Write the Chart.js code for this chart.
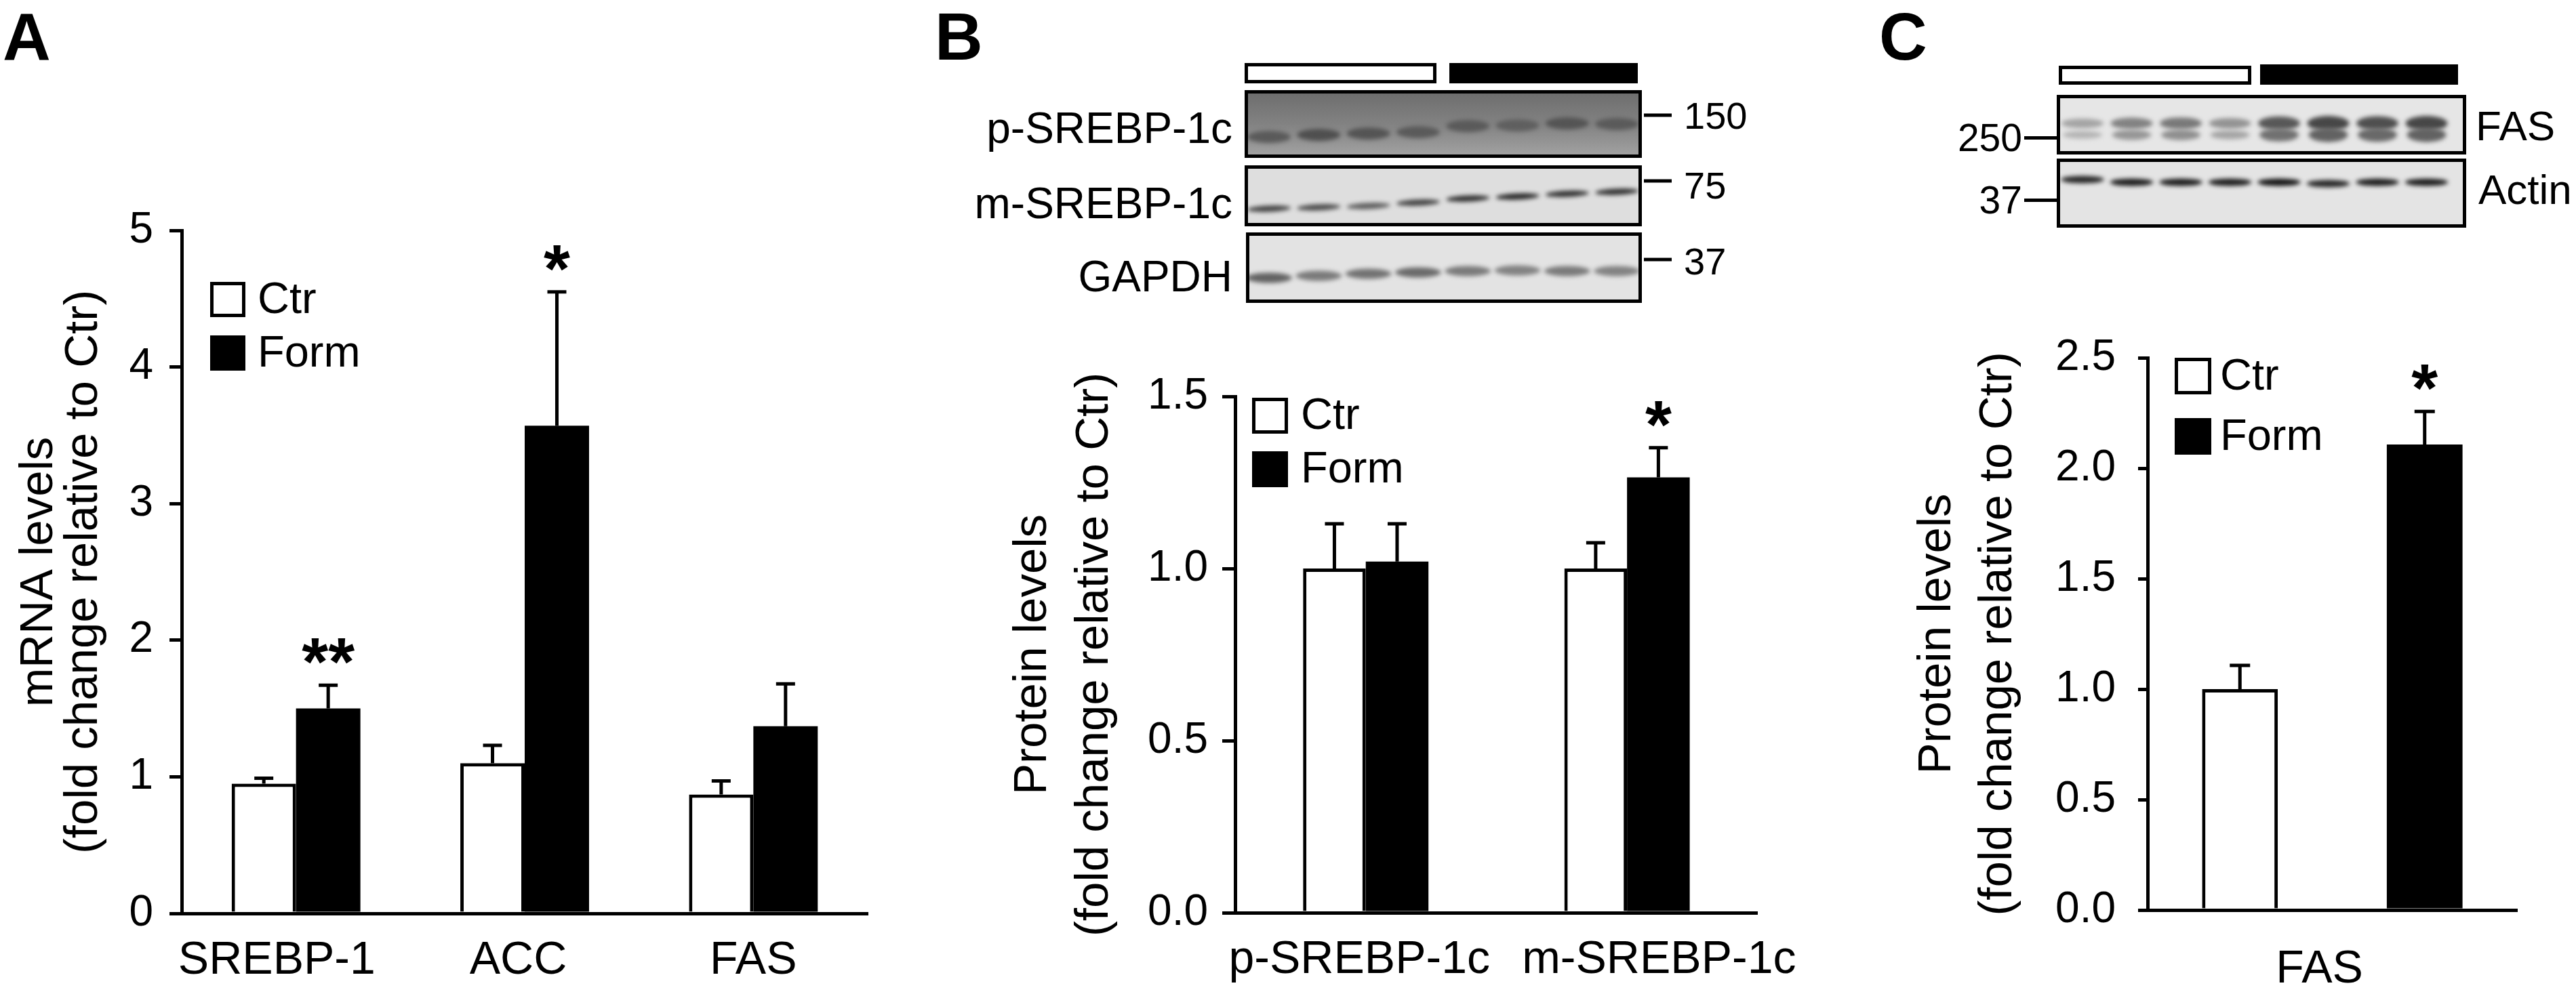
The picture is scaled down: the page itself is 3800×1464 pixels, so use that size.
<!DOCTYPE html>
<html>
<head>
<meta charset="utf-8">
<script src="https://cdn.jsdelivr.net/npm/chart.js@4.4.1/dist/chart.umd.min.js"></script>
<style>
  body { margin: 0; background: #fff; }
  #page { position: relative; width: 3800px; height: 1464px; overflow: hidden; font-family: "Liberation Sans", Arial, sans-serif; color: #000; }
  canvas { position: absolute; top: 0; }
  .t { position: absolute; line-height: 1; white-space: nowrap; transform: translateY(-50%); }
  .letter { position: absolute; top: 5px; font-weight: bold; font-size: 98px; line-height: 1; }
  .bar { position: absolute; box-sizing: border-box; }
</style>
</head>
<body>
<div id="page">
  <canvas id="blots" width="3800" height="1464" style="left:0"></canvas>
  <canvas id="chartA" width="1300" height="1464" style="left:0"></canvas>
  <canvas id="chartB" width="1300" height="1464" style="left:1400px"></canvas>
  <canvas id="chartC" width="1050" height="1464" style="left:2750px"></canvas>
  <div class="letter" style="left:4px">A</div>
  <div class="letter" style="left:1379px">B</div>
  <div class="letter" style="left:2772px">C</div>
</div>
<script>
const FONT = '"Liberation Sans", Arial, sans-serif';

// ---- data ----
const seriesNames = ['Ctr', 'Form'];

// A: mRNA levels
const catsA = ['SREBP-1', 'ACC', 'FAS'];
const ctrA = [0.95, 1.10, 0.87];
const ctrErrA = [0.04, 0.13, 0.10];
const formA = [1.50, 3.57, 1.37];
const formErrA = [0.17, 0.98, 0.31];
const starsA = ['**', '*', ''];
const ticksA = ['0', '1', '2', '3', '4', '5'];

// B: SREBP-1c protein
const catsB = ['p-SREBP-1c', 'm-SREBP-1c'];
const ctrB = [1.00, 1.00];
const ctrErrB = [0.13, 0.075];
const formB = [1.02, 1.265];
const formErrB = [0.11, 0.086];
const starsB = ['', '*'];
const ticksB = ['0.0', '0.5', '1.0', '1.5'];

// C: FAS protein
const catsC = ['FAS'];
const ctrC = [1.00];
const ctrErrC = [0.107];
const formC = [2.107];
const formErrC = [0.15];
const starsC = ['*'];
const ticksC = ['0.0', '0.5', '1.0', '1.5', '2.0', '2.5'];

// blot lanes (band centre y and relative intensity)
const pSrebpY = [202, 199, 197, 195, 186, 185, 182, 183];
const pSrebpI = [0.55, 0.65, 0.6, 0.55, 0.55, 0.5, 0.6, 0.55];
const mSrebpY = [308, 306, 304, 299, 293, 290, 286, 283];
const mSrebpI = [0.75, 0.7, 0.6, 0.75, 0.85, 0.9, 0.85, 0.85];
const gapdhY = [410, 407, 404, 402, 400, 399, 400, 400];
const gapdhI = [0.7, 0.55, 0.6, 0.65, 0.55, 0.5, 0.55, 0.5];
const fasI = [0.3, 0.5, 0.55, 0.4, 0.75, 0.85, 0.8, 0.85];
const actinY = [265, 269, 269, 269, 269, 271, 269, 269];
const actinI = [0.85, 0.9, 0.9, 0.9, 0.95, 0.85, 0.9, 0.9];

// ---- error bars, stars, legend ----
const extras = {
  id: 'extras',
  afterDatasetsDraw(chart, args, o) {
    const ctx = chart.ctx;
    const y = chart.scales.y;
    ctx.save();
    ctx.strokeStyle = '#000';
    ctx.fillStyle = '#000';
    ctx.lineWidth = 5;
    chart.data.datasets.forEach((ds, di) => {
      chart.getDatasetMeta(di).data.forEach((bar, i) => {
        const top = y.getPixelForValue(ds.data[i] + ds.errors[i]);
        ctx.beginPath();
        ctx.moveTo(bar.x, bar.y);
        ctx.lineTo(bar.x, top);
        ctx.moveTo(bar.x - o.cap / 2, top);
        ctx.lineTo(bar.x + o.cap / 2, top);
        ctx.stroke();
        if (ds.stars[i]) {
          ctx.font = 'bold 100px ' + FONT;
          ctx.textAlign = 'center';
          ctx.textBaseline = 'alphabetic';
          ctx.fillText(ds.stars[i], bar.x, top);
        }
      });
    });
    // legend
    const L = o.legend;
    const ca = chart.chartArea;
    ctx.font = L.font + 'px ' + FONT;
    ctx.textAlign = 'left';
    ctx.textBaseline = 'middle';
    chart.data.datasets.forEach((ds, di) => {
      const bx = ca.left + L.dx, by = ca.top + L.dy + di * L.pitch;
      if (di === 0) ctx.strokeRect(bx + 2.5, by + 2.5, L.size - 5, L.size - 5);
      else ctx.fillRect(bx, by, L.size, L.size);
      ctx.fillText(ds.label, bx + L.size + L.gap, by + L.size / 2 + 2);
    });
    ctx.restore();
  }
};

// category labels sit a little off their bar pairs in the original; nudge with spaces
const NB = '\u00a0';
function nudge(text, lead, trail) { return NB.repeat(lead) + text + NB.repeat(trail); }

function makeChart(id, c) {
  return new Chart(document.getElementById(id), {
    type: 'bar',
    data: {
      labels: c.labels,
      datasets: [
        { label: seriesNames[0], data: c.ctr, errors: c.ctrErr, stars: c.ctrStars,
          backgroundColor: '#fff', borderColor: '#000', borderWidth: 5, borderSkipped: 'start',
          categoryPercentage: c.catPct, barPercentage: c.barPct },
        { label: seriesNames[1], data: c.form, errors: c.formErr, stars: c.formStars,
          backgroundColor: '#000', borderWidth: 0,
          categoryPercentage: c.catPct, barPercentage: c.barPct }
      ]
    },
    options: {
      responsive: false,
      animation: false,
      devicePixelRatio: 1,
      layout: { padding: { top: c.top, right: c.right, bottom: 0, left: 0 } },
      plugins: { legend: { display: false }, tooltip: { enabled: false }, extras: c.extras },
      scales: {
        x: {
          grid: { display: false, drawTicks: false },
          border: { display: true, width: 5, color: '#000', z: 1 },
          ticks: { color: '#000', font: { family: FONT, size: 68 }, padding: c.labelPad, maxRotation: 0, autoSkip: false,
                   callback: (v, i) => nudge(c.labels[i], c.nudges[i][0], c.nudges[i][1]) },
          afterFit: s => { s.height = c.xHeight; }
        },
        y: {
          min: 0, max: c.max,
          grid: { display: true, drawOnChartArea: false, drawTicks: true, tickLength: c.tickLen, lineWidth: 5, color: '#000' },
          border: { display: true, width: 5, color: '#000', z: 1 },
          ticks: { stepSize: c.step, color: '#000', font: { family: FONT, size: 64 }, padding: c.tickPad,
                   callback: (v, i) => c.tickLabels[i] },
          title: { display: true, text: c.title, color: '#000',
                   font: { family: FONT, size: 69, lineHeight: c.titleLH },
                   padding: { top: c.titlePad, bottom: 0 } },
          afterFit: s => { s.width = c.yWidth; }
        }
      }
    },
    plugins: [extras]
  });
}

makeChart('chartA', {
  labels: catsA, ctr: ctrA, ctrErr: ctrErrA, form: formA, formErr: formErrA,
  ctrStars: ['', '', ''], formStars: starsA, tickLabels: ticksA, nudges: [[0, 3], [0, 1], [0, 0]],
  max: 5, step: 1, catPct: 0.563, barPct: 1,
  top: 340, right: 20, xHeight: 116, yWidth: 268, tickLen: 18, tickPad: 24, labelPad: 29,
  title: ['mRNA levels', '(fold change relative to Ctr)'], titleLH: 66 / 69, titlePad: 25,
  extras: { cap: 28, legend: { dx: 42, dy: 76, size: 52, pitch: 79, gap: 18, font: 65 } }
});

makeChart('chartB', {
  labels: catsB, ctr: ctrB, ctrErr: ctrErrB, form: formB, formErr: formErrB,
  ctrStars: ['', ''], formStars: starsB, tickLabels: ticksB, nudges: [[0, 1], [5, 0]],
  max: 1.5, step: 0.5, catPct: 0.48, barPct: 1,
  top: 585, right: 86, xHeight: 117, yWidth: 422, tickLen: 19, tickPad: 21, labelPad: 29,
  title: ['Protein levels', '(fold change relative to Ctr)'], titleLH: 91 / 69, titlePad: 78,
  extras: { cap: 28, legend: { dx: 25, dy: 2, size: 53, pitch: 79, gap: 19, font: 65 } }
});

makeChart('chartC', {
  labels: catsC, ctr: ctrC, ctrErr: ctrErrC, form: formC, formErr: formErrC,
  ctrStars: [''], formStars: starsC, tickLabels: ticksC, nudges: [[0, 2]],
  max: 2.5, step: 0.5, catPct: 1, barPct: 0.41,
  top: 528, right: 87, xHeight: 121, yWidth: 418, tickLen: 14, tickPad: 33, labelPad: 47,
  title: ['Protein levels', '(fold change relative to Ctr)'], titleLH: 90 / 69, titlePad: 63,
  extras: { cap: 30, legend: { dx: 40, dy: 0, size: 54, pitch: 89, gap: 13, font: 65 } }
});

// ---- blot images and their labels ----
const page = document.getElementById('page');
function label(text, x, cy, size, align) {
  const d = document.createElement('div');
  d.className = 't';
  d.textContent = text;
  d.style.fontSize = size + 'px';
  d.style.top = cy + 'px';
  if (align === 'right') d.style.right = (3800 - x) + 'px';
  else d.style.left = x + 'px';
  page.appendChild(d);
}
function groupBar(x, y, w, h, filled) {
  const d = document.createElement('div');
  d.className = 'bar';
  Object.assign(d.style, { left: x + 'px', top: y + 'px', width: w + 'px', height: h + 'px',
    border: '5px solid #000', background: filled ? '#000' : '#fff' });
  page.appendChild(d);
}

const g = document.getElementById('blots').getContext('2d');
function grey(v) { const c = Math.round(v); return `rgb(${c},${c},${c})`; }
function blot(x, y, w, h, bg, bands) {
  g.save();
  g.fillStyle = bg;
  g.fillRect(x, y, w, h);
  g.beginPath(); g.rect(x, y, w, h); g.clip();
  g.filter = 'blur(3px)';
  bands.forEach(b => {
    g.fillStyle = b.c;
    g.beginPath();
    g.ellipse(b.x, b.y, b.w / 2, b.h / 2, b.tilt || 0, 0, Math.PI * 2);
    g.fill();
  });
  g.restore();
  g.lineWidth = 5;
  g.strokeStyle = '#000';
  g.strokeRect(x + 2.5, y + 2.5, w - 5, h - 5);
}
function lanes(x0, pitch, n, fn) {
  const out = [];
  for (let i = 0; i < n; i++) out.push(...fn(x0 + i * pitch, i));
  return out;
}

// panel B
groupBar(1836, 93, 283, 30, false);
groupBar(2138, 93, 278, 30, true);
const pGrad = g.createLinearGradient(0, 133, 0, 233);
pGrad.addColorStop(0, '#6c6c6c');
pGrad.addColorStop(0.5, '#828282');
pGrad.addColorStop(1, '#a4a4a4');
blot(1836, 133, 586, 100, pGrad,
  lanes(1872, 73.3, 8, (cx, i) => [{ x: cx, y: pSrebpY[i], w: 64, h: 18, c: grey(150 - 110 * pSrebpI[i]) }]));
blot(1836, 244, 586, 90, '#dedede',
  lanes(1872, 73.3, 8, (cx, i) => [{ x: cx, y: mSrebpY[i], w: 64, h: 9, tilt: -0.04, c: grey(200 - 180 * mSrebpI[i]) }]));
blot(1838, 343, 584, 104, '#e3e3e3',
  lanes(1872, 73.3, 8, (cx, i) => [{ x: cx, y: gapdhY[i], w: 68, h: 15, c: grey(210 - 160 * gapdhI[i]) }]));
label('p-SREBP-1c', 1818, 189, 64, 'right');
label('m-SREBP-1c', 1818, 300, 64, 'right');
label('GAPDH', 1818, 408, 64, 'right');
g.fillStyle = '#000';
[170, 267, 383].forEach(yy => g.fillRect(2425, yy - 2.5, 41, 5));
label('150', 2484, 171, 56);
label('75', 2484, 274, 56);
label('37', 2484, 386, 56);

// panel C
groupBar(3037, 97, 284, 28, false);
groupBar(3334, 95, 292, 30, true);
blot(3034, 140, 604, 88, '#e6e6e6',
  lanes(3072, 72.5, 8, (cx, i) => [
    { x: cx, y: 182, w: 62, h: 10 + 14 * fasI[i], c: grey(215 - 170 * fasI[i]) },
    { x: cx, y: 199, w: 58, h: 6 + 18 * fasI[i], c: grey(225 - 150 * fasI[i]) }
  ]));
blot(3034, 234, 604, 102, '#e4e4e4',
  lanes(3072, 72.5, 8, (cx, i) => [{ x: cx, y: actinY[i], w: 64, h: 11, c: grey(200 - 190 * actinI[i]) }]));
g.fillStyle = '#000';
g.fillRect(2986, 201, 48, 5);
g.fillRect(2986, 293, 48, 5);
label('250', 2983, 203, 57, 'right');
label('37', 2983, 295, 57, 'right');
label('FAS', 3652, 186, 62);
label('Actin', 3656, 280, 62);
</script>
</body>
</html>
